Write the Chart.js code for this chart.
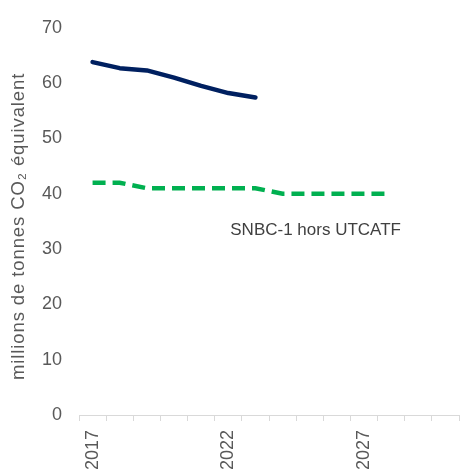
<!DOCTYPE html>
<html>
<head>
<meta charset="utf-8">
<script src="https://cdn.jsdelivr.net/npm/chart.js@4/dist/chart.umd.min.js"></script>
<style>
	html, body { margin: 0; padding: 0; background: #fff; }
	#wrap { width: 460px; height: 470px; }
</style>
</head>
<body>
<div id="wrap"><canvas id="chart-emissions"></canvas></div>
<script>
( function() {
	'use strict';

	var years = ["2017", "2018", "2019", "2020", "2021", "2022", "2023", "2024", "2025", "2026", "2027", "2028", "2029", "2030"];
	var emissions = [63.8, 62.7, 62.3, 61.0, 59.5, 58.2, 57.4, null, null, null, null, null, null, null];
	var snbc1 = [42, 42, 41, 41, 41, 41, 41, 40, 40, 40, 40, 40, null, null];
	var yTicks = [0, 10, 20, 30, 40, 50, 60, 70];
	var yTitle = "millions de tonnes CO₂ équivalent";
	var noteText = "SNBC-1 hors UTCATF";
	var noteAt = { x: "2022", y: 33.3 };

	var grey = "#595959";
	var font = "'Liberation Sans', Arial, sans-serif";

	/**
	 * Annotation sous la courbe SNBC et titre de l'axe vertical
	 */
	var textPlugin = {
		id: 'texts',
		afterDatasetsDraw: function(chart) {
			var ctx = chart.ctx;
			var area = chart.chartArea;
			var x = chart.scales.x.getPixelForValue(years.indexOf(noteAt.x));
			var y = chart.scales.y.getPixelForValue(noteAt.y);
			ctx.save();
			ctx.font = "17px " + font;
			ctx.fillStyle = "#404040";
			ctx.textAlign = "left";
			ctx.textBaseline = "middle";
			ctx.fillText(noteText, x + 2, y);

			// titre de l'axe, un peu sous le centre comme dans Excel
			ctx.translate(19, (area.top + area.bottom) / 2 + 5);
			ctx.rotate(-Math.PI / 2);
			ctx.font = "18.5px " + font;
			ctx.letterSpacing = "0.9px";
			ctx.fillStyle = grey;
			ctx.textAlign = "center";
			ctx.fillText(yTitle, 0, 0);
			ctx.restore();
		}
	};

	var dataChart = {
		labels: years,
		datasets: [
			{
				label: "Émissions",
				data: emissions,
				borderColor: "#002060",
				backgroundColor: "#002060",
				borderWidth: 4.5,
				borderCapStyle: 'round',
				borderJoinStyle: 'round',
				pointRadius: 0,
				tension: 0,
				fill: false
			},
			{
				label: noteText,
				data: snbc1,
				borderColor: "#00B050",
				backgroundColor: "#00B050",
				borderWidth: 4.5,
				borderDash: [13, 7],
				pointRadius: 0,
				tension: 0,
				fill: false
			}
		]
	};

	var ctx = document.getElementById("chart-emissions");
	var chartLine = new Chart(ctx, {
		type: 'line',
		data: dataChart,
		plugins: [textPlugin],
		options: {
			responsive: true,
			maintainAspectRatio: false,
			animation: false,
			layout: { padding: { top: 10, right: 1, bottom: 0, left: 0 } },
			plugins: {
				legend: { display: false },
				tooltip: { enabled: false }
			},
			scales: {
				x: {
					type: 'category',
					offset: true,
					border: { display: true, color: "#d9d9d9", width: 1 },
					grid: {
						display: true,
						offset: true,
						drawOnChartArea: false,
						drawTicks: true,
						tickLength: 6,
						color: "#d9d9d9"
					},
					ticks: {
						autoSkip: false,
						maxRotation: 90,
						minRotation: 90,
						padding: 9,
						color: grey,
						font: { family: font, size: 18 },
						callback: function(value, index) {
							return (index % 5 === 0) ? years[index] : '';
						}
					},
					afterFit: function(axis) {
						axis.height = 55;
						axis.paddingLeft = 0;
						axis.paddingRight = 0;
					}
				},
				y: {
					min: yTicks[0],
					max: yTicks[yTicks.length - 1],
					border: { display: false },
					grid: { display: false, drawTicks: false },
					afterBuildTicks: function(axis) {
						axis.ticks = yTicks.map(function(v) { return { value: v }; });
					},
					afterFit: function(axis) {
						axis.width = 79;
					},
					ticks: {
						padding: 17,
						color: grey,
						font: { family: font, size: 18 }
					}
				}
			}
		}
	});
})();
</script>
</body>
</html>
